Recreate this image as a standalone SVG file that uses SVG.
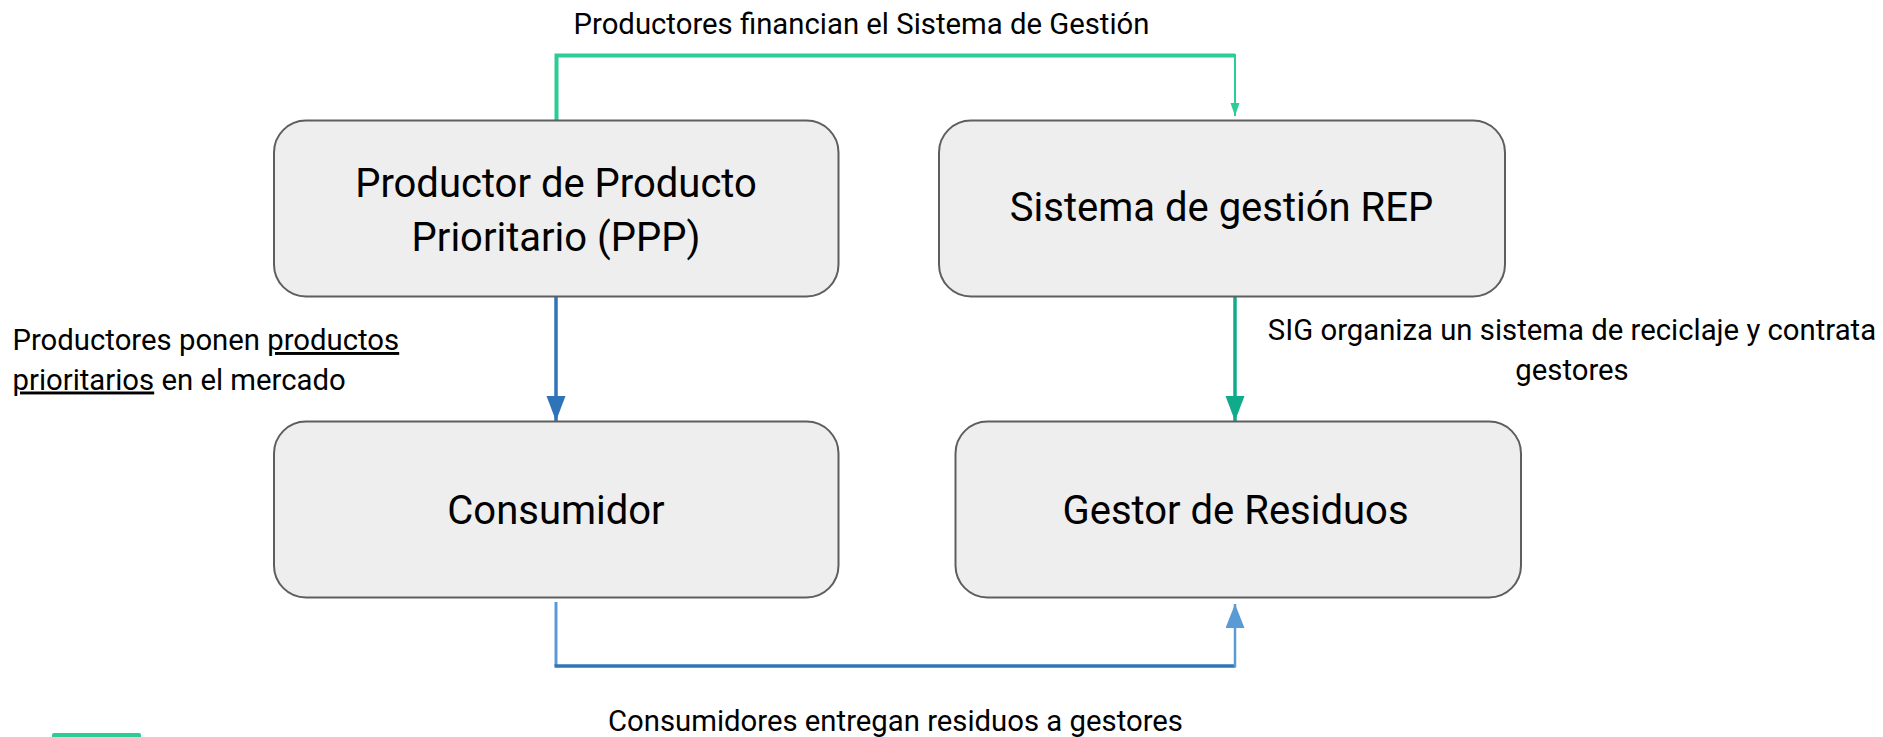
<svg xmlns="http://www.w3.org/2000/svg" width="1883" height="737" viewBox="0 0 1883 737">
  <style>
    .box { fill: #eeeeee; stroke: #5e5e5e; stroke-width: 2; }
    .big { font-family: Roboto, "Liberation Sans", sans-serif; font-size: 40px; fill: #000000; text-anchor: middle; }
    .lbl { font-family: Roboto, "Liberation Sans", sans-serif; font-size: 29.3px; fill: #000000; }
    .u { text-decoration: underline; }
    .conn { fill: none; stroke-linecap: butt; stroke-linejoin: miter; }
  </style>
  <defs>
    <marker id="arrGreen" markerUnits="userSpaceOnUse" markerWidth="14" markerHeight="10" refX="13" refY="4.5" orient="auto">
      <path d="M0,0 L13,4.5 L0,9 z" fill="#2dcc94"/>
    </marker>
    <marker id="arrBlue" markerUnits="userSpaceOnUse" markerWidth="26" markerHeight="20" refX="25" refY="9.5" orient="auto">
      <path d="M0,0 L25,9.5 L0,19 z" fill="#2f74b9"/>
    </marker>
    <marker id="arrTeal" markerUnits="userSpaceOnUse" markerWidth="26" markerHeight="20" refX="25" refY="9.5" orient="auto">
      <path d="M0,0 L25,9.5 L0,19 z" fill="#10ab8b"/>
    </marker>
    <marker id="arrLightBlue" markerUnits="userSpaceOnUse" markerWidth="26" markerHeight="20" refX="24" refY="9.5" orient="auto">
      <path d="M0,0 L24,9.5 L0,19 z" fill="#5b9bd5"/>
    </marker>
  </defs>

  <g id="connectors">
    <!-- PPP -> Sistema de gestión (financing) -->
    <path class="conn" d="M556.5,120 V55.5 H1235" stroke="#2dcc94" stroke-width="4"/>
    <path class="conn" d="M1235,54 V116" stroke="#2dcc94" stroke-width="2" marker-end="url(#arrGreen)"/>
    <!-- PPP -> Consumidor -->
    <path class="conn" d="M556,297 V421" stroke="#2f74b9" stroke-width="3.5" marker-end="url(#arrBlue)"/>
    <!-- SIG -> Gestor -->
    <path class="conn" d="M1235,297 V421" stroke="#10ab8b" stroke-width="3.5" marker-end="url(#arrTeal)"/>
    <!-- Consumidor -> Gestor -->
    <path class="conn" d="M556,602 V666" stroke="#5b9bd5" stroke-width="3"/>
    <path class="conn" d="M554.5,666 H1235" stroke="#3274b8" stroke-width="3.5"/>
    <path class="conn" d="M1235,667.5 V604" stroke="#5b9bd5" stroke-width="2.5" marker-end="url(#arrLightBlue)"/>
  </g>

  <g id="node-ppp">
    <rect class="box" x="274" y="120.5" width="564.5" height="176" rx="32" ry="32"/>
    <text class="big" x="556" y="197">Productor de Producto</text>
    <text class="big" x="556" y="251">Prioritario (PPP)</text>
  </g>

  <g id="node-sig">
    <rect class="box" x="939" y="120.5" width="566" height="176" rx="32" ry="32"/>
    <text class="big" x="1221.5" y="221">Sistema de gestión REP</text>
  </g>

  <g id="node-consumidor">
    <rect class="box" x="274" y="421.5" width="564.5" height="176" rx="32" ry="32"/>
    <text class="big" x="556" y="524">Consumidor</text>
  </g>

  <g id="node-gestor">
    <rect class="box" x="955.5" y="421.5" width="565.5" height="176" rx="32" ry="32"/>
    <text class="big" x="1235.5" y="524">Gestor de Residuos</text>
  </g>

  <g id="labels">
    <text class="lbl" x="861.5" y="34" text-anchor="middle">Productores financian el Sistema de Gestión</text>
    <text class="lbl" x="12.5" y="350">Productores ponen <tspan class="u">productos</tspan></text>
    <text class="lbl" x="12.5" y="389.5"><tspan class="u">prioritarios</tspan> en el mercado</text>
    <text class="lbl" x="1572" y="340" text-anchor="middle">SIG organiza un sistema de reciclaje y contrata</text>
    <text class="lbl" x="1572" y="379.5" text-anchor="middle">gestores</text>
    <text class="lbl" x="895.5" y="731" text-anchor="middle">Consumidores entregan residuos a gestores</text>
  </g>

  <rect x="52" y="733" width="89" height="6" rx="2" fill="#2dcc94"/>
</svg>
